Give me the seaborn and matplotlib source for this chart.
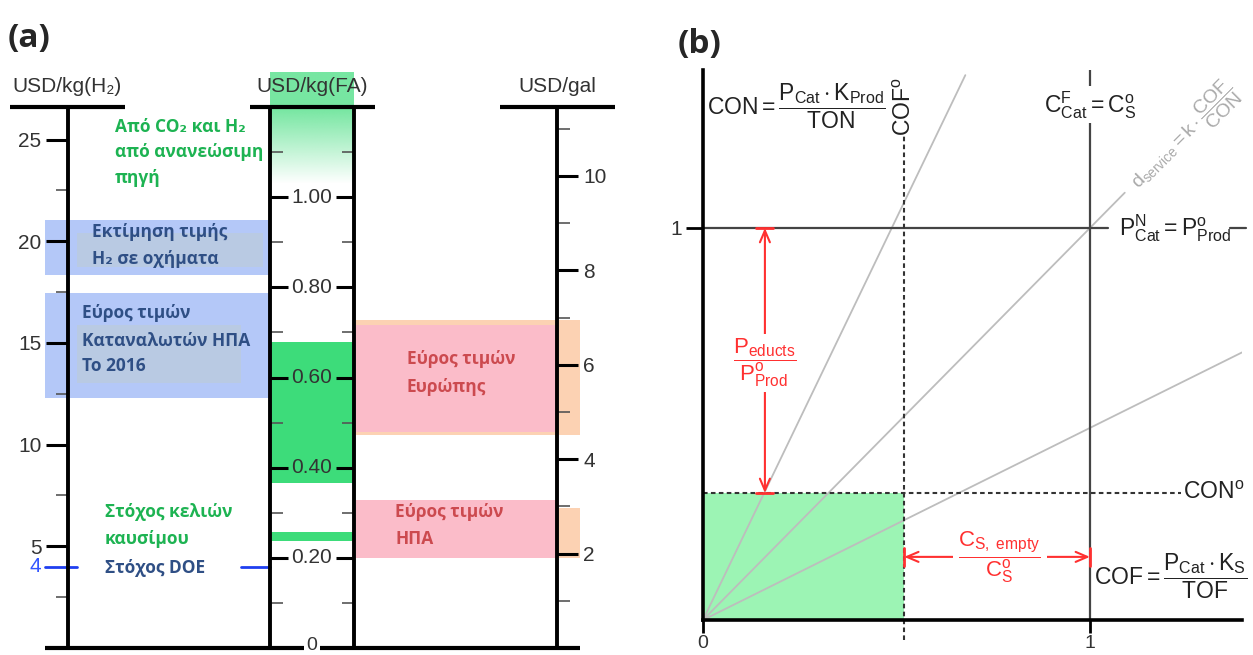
import numpy as np
import pandas as pd
import seaborn as sns
import matplotlib
matplotlib.use("Agg")
import matplotlib.pyplot as plt

sns.set_theme(style="white")
plt.rcParams["font.family"] = ["Liberation Sans", "DejaVu Sans"]
plt.rcParams["mathtext.fontset"] = "custom"
plt.rcParams["mathtext.rm"] = "Liberation Sans"
plt.rcParams["mathtext.it"] = "Liberation Sans:italic"
plt.rcParams["mathtext.bf"] = "Liberation Sans:bold"

# ---------------- panel (a) data ----------------
h2_top, fa_top, gal_top = 26.6, 1.20, 11.46
h2_major = [5, 10, 15, 20, 25]
h2_minor = [2.5, 7.5, 12.5, 17.5, 22.5]
fa_major = [0.20, 0.40, 0.60, 0.80, 1.00]
fa_minor = [0.1, 0.3, 0.5, 0.7, 0.9, 1.1]
gal_major = [2, 4, 6, 8, 10]
gal_minor = [1, 3, 5, 7, 9, 11]
doe_target = 4

h2_bands = [(18.36, 21.06), (12.30, 17.47)]
h2_text_boxes = [(18.75, 20.42), (13.04, 15.90)]
fa_bands = [(0.366, 0.678), (0.237, 0.257)]
fa_renewable = (1.03, 1.277)
gal_orange = [(4.51, 6.95), (1.91, 2.97)]
gal_pink = [(4.58, 6.84), (1.91, 3.14)]

green_lines = ["Από CO₂ και H₂", "από ανανεώσιμη", "πηγή"]
blue1_lines = ["Εκτίμηση τιμής", "H₂ σε οχήματα"]
blue2_lines = ["Εύρος τιμών", "Καταναλωτών ΗΠΑ", "Το 2016"]
fuel_lines = ["Στόχος κελιών", "καυσίμου"]
doe_label = "Στόχος DOE"
eu_lines = ["Εύρος τιμών", "Ευρώπης"]
us_lines = ["Εύρος τιμών", "ΗΠΑ"]

# ---------------- panel (b) data ----------------
cof0 = 0.52
con0 = 0.324
ray_slopes = [2.05, 1.0, 0.49]
ray_ends = [0.678, 1.09, 1.393]
educt_x = 0.16
educt_label_y = 0.656
empty_y = 0.161
empty_label_x = 0.767

W, H = 1253, 655
fig = plt.figure(figsize=(W / 100, H / 100), dpi=100)


def fx(px):
    return px / W


def fy(py):
    return 1 - py / H


def box(l, t, r, b):
    return [fx(l), fy(b), fx(r) - fx(l), fy(t) - fy(b)]


greek = ["Open Sans", "DejaVu Sans"]
c_green_txt = "#1db352"
c_blue_txt = "#2f4f85"
c_red_txt = "#cc4a4f"
tick_fs = 15


def strip(ax):
    ax.set_facecolor("none")
    for s in ax.spines.values():
        s.set_visible(False)
    ax.set_xticks([])


# left axis USD/kg(H2): line at 68 px, axes spans to the FA column
ax_h2 = fig.add_axes(box(68, 107, 270, 648))
strip(ax_h2)
ax_h2.set_xlim(0, 1)
ax_h2.set_ylim(0, h2_top)
ax_h2.spines["left"].set_visible(True)
ax_h2.spines["left"].set_linewidth(2.8)
ax_h2.spines["left"].set_color("black")
ax_h2.set_yticks(h2_major)
ax_h2.set_yticks(h2_minor, minor=True)
ax_h2.tick_params(axis="y", which="major", left=True, length=16, width=2.2,
                  color="black", labelsize=tick_fs, labelcolor="#333333", pad=3)
ax_h2.tick_params(axis="y", which="minor", left=True, length=9, width=1.2, color="#555555")

for (lo, hi) in h2_bands:
    ax_h2.axhspan(lo, hi, xmin=-0.114, xmax=1.0, color="#b4c8f8", lw=0, clip_on=False, zorder=0)
for (lo, hi), xr in zip(h2_text_boxes, [0.965, 0.857]):
    ax_h2.axhspan(lo, hi, xmin=0.045, xmax=xr, color="#b9cae3", lw=0, zorder=0.5)

ax_h2.plot([-0.114, 0.045], [doe_target, doe_target], color="#1f3ff0", lw=2, clip_on=False)
ax_h2.plot([0.856, 1.0], [doe_target, doe_target], color="#1f3ff0", lw=2, clip_on=False)
ax_h2.text(-0.135, doe_target, str(doe_target), color="#3355ff", fontsize=tick_fs,
           ha="right", va="center", transform=ax_h2.get_yaxis_transform())

# middle axis USD/kg(FA)
ax_fa = fig.add_axes(box(270, 107, 354, 648))
strip(ax_fa)
ax_fa.set_xlim(0, 1)
grad = np.zeros((200, 1, 4))
grad[:, 0, :3] = matplotlib.colors.to_rgb("#3ddc7a")
t = np.linspace(0, 1, 200)
grad[:, 0, 3] = np.clip(t * 1.5, 0, 1) * 0.7
im = ax_fa.imshow(grad, origin="lower", aspect="auto",
                  extent=[0, 1, fa_renewable[0], fa_renewable[1]], zorder=0)
im.set_clip_on(False)
for (lo, hi) in fa_bands:
    ax_fa.axhspan(lo, hi, color="#3ddc7a", lw=0, zorder=0)
ax_fa.set_xlim(0, 1)
ax_fa.set_ylim(0, fa_top)
for side in ["left", "right"]:
    ax_fa.spines[side].set_visible(True)
    ax_fa.spines[side].set_linewidth(2.8)
    ax_fa.spines[side].set_color("black")
ax_fa.set_yticks(fa_major)
ax_fa.set_yticks(fa_minor, minor=True)
ax_fa.tick_params(axis="y", which="major", left=True, right=True, direction="in",
                  length=13, width=2.2, color="black", labelleft=False)
ax_fa.tick_params(axis="y", which="minor", left=True, right=True, direction="in",
                  length=9, width=1.2, color="#555555")
for v in fa_major:
    ax_fa.text(0.5, v, f"{v:.2f}", fontsize=tick_fs, color="#333333", ha="center", va="center",
               transform=ax_fa.get_yaxis_transform())

# right axis USD/gal
ax_gal = fig.add_axes(box(354, 107, 557, 648))
strip(ax_gal)
ax_gal.set_xlim(0, 1)
ax_gal.set_ylim(0, gal_top)
for (lo, hi) in gal_orange:
    ax_gal.axhspan(lo, hi, xmin=0.008, xmax=1.113, color="#fcd2b3", lw=0, clip_on=False, zorder=0)
for (lo, hi) in gal_pink:
    ax_gal.axhspan(lo, hi, xmin=0.008, xmax=1.0, color="#fbbcc9", lw=0, zorder=0.5)
ax_gal.spines["right"].set_visible(True)
ax_gal.spines["right"].set_linewidth(2.8)
ax_gal.spines["right"].set_color("black")
ax_gal.yaxis.tick_right()
ax_gal.set_yticks(gal_major)
ax_gal.set_yticks(gal_minor, minor=True)
ax_gal.tick_params(axis="y", which="major", right=True, left=False, length=15, width=2.2,
                   color="black", labelsize=tick_fs, labelcolor="#333333", pad=4)
ax_gal.tick_params(axis="y", which="minor", right=True, left=False, length=9, width=1.2,
                   color="#555555")

# header bars, baseline and titles
for ax, (l, r) in [(ax_h2, (10, 125)), (ax_fa, (250, 375)), (ax_gal, (500, 615))]:
    x0, x1 = ax.get_position().x0 * W, ax.get_position().x1 * W
    ax.plot([(l - x0) / (x1 - x0), (r - x0) / (x1 - x0)], [1, 1], color="black", lw=3,
            transform=ax.transAxes, clip_on=False, solid_capstyle="butt")
ax_h2.plot([-0.114, (580 - 68) / 202], [0, 0], color="black", lw=3,
           transform=ax_h2.transAxes, clip_on=False, solid_capstyle="butt")
ax_fa.text(0.5, 0.004, "0", fontsize=14, color="#333333", ha="center", va="center",
           transform=ax_fa.transAxes, bbox=dict(fc="white", ec="none", pad=1.5), zorder=5)

for cx, s in [(67, "USD/kg(H₂)"), (312, "USD/kg(FA)"), (557, "USD/gal")]:
    fig.text(fx(cx), fy(86), s, fontsize=15, color="#333333", ha="center", va="center")

fig.text(fx(8), fy(38), "(a)", fontsize=24, fontweight="bold", family=greek,
         ha="left", va="center")


def gtext(px, pys, lines, color):
    for py, s in zip(pys, lines):
        fig.text(fx(px), fy(py), s, color=color, fontsize=12.5, fontweight="bold",
                 family=greek, ha="left", va="center")


gtext(115, [127, 152, 178], green_lines, c_green_txt)
gtext(92, [232, 259], blue1_lines, c_blue_txt)
gtext(82, [313, 341, 366], blue2_lines, c_blue_txt)
gtext(105, [512, 539], fuel_lines, c_green_txt)
gtext(105, [568], [doe_label], c_blue_txt)
gtext(407, [359, 387], eu_lines, c_red_txt)
gtext(395, [512, 539], us_lines, c_red_txt)

# ---------------- panel (b) ----------------
ax_b = fig.add_axes(box(703, 70, 1242, 620))
ax_b.set_facecolor("none")
ax_b.set_xlim(0, 1.393)
ax_b.set_ylim(0, 1.403)
for s in ["top", "right"]:
    ax_b.spines[s].set_visible(False)
for s in ["left", "bottom"]:
    ax_b.spines[s].set_linewidth(2.6)
    ax_b.spines[s].set_color("black")

ax_b.fill_between([0, cof0], 0, con0, color="#9cf4b4", lw=0, zorder=0)

rays = pd.DataFrame({
    "ray": np.repeat(np.arange(len(ray_slopes)), 2),
    "x": np.ravel([[0, e] for e in ray_ends]),
    "y": np.ravel([[0, s * e] for s, e in zip(ray_slopes, ray_ends)]),
})
sns.lineplot(data=rays, x="x", y="y", units="ray", estimator=None, color="#bdbdbd",
             lw=1.3, ax=ax_b, zorder=1)
ax_b.set_xlabel("")
ax_b.set_ylabel("")

dark = "#444444"
ax_b.plot([0, 1.047], [1, 1], color=dark, lw=1.6)
ax_b.plot([1.362, 1.403], [1, 1], color=dark, lw=1.6, clip_on=False)
ax_b.plot([1, 1], [0, 1.403], color=dark, lw=1.6)
dash = (0, (2.2, 1.6))
ax_b.plot([cof0, cof0], [-0.05, 1.235], color="#333333", lw=1.5, ls=dash, clip_on=False)
ax_b.plot([0, 1.235], [con0, con0], color="#333333", lw=1.5, ls=dash)

ax_b.set_xticks([0, 1])
ax_b.set_xticklabels(["0", "1"])
ax_b.set_yticks([1])
ax_b.set_yticklabels(["1"])
ax_b.tick_params(axis="x", bottom=True, length=9.5, width=2, color="black",
                 labelsize=14, labelcolor="#333333", pad=1.5)
ax_b.tick_params(axis="y", left=True, length=12, width=2, color="black",
                 labelsize=tick_fs, labelcolor="#333333", pad=3)

red = "#ff3030"
arrow = dict(arrowstyle="<->,head_length=0.7,head_width=0.3", color=red, lw=1.5,
             shrinkA=0, shrinkB=0)
ax_b.annotate("", xy=(educt_x, 1), xytext=(educt_x, con0), arrowprops=arrow)
ax_b.annotate("", xy=(cof0, empty_y), xytext=(1, empty_y), arrowprops=arrow)
for yy in [1, con0]:
    ax_b.plot([educt_x - 0.022, educt_x + 0.022], [yy, yy], color=red, lw=2)
for xx in [cof0, 1]:
    ax_b.plot([xx, xx], [empty_y - 0.022, empty_y + 0.022], color=red, lw=2)

wb = dict(fc="white", ec="none", pad=2)
ax_b.text(educt_x, educt_label_y, r"$\dfrac{\mathrm{P_{educts}}}{\mathrm{P^{o}_{Prod}}}$",
          color=red, fontsize=16, ha="center", va="center", bbox=wb, zorder=4)
ax_b.text(empty_label_x, empty_y, r"$\dfrac{\mathrm{C_{S,\ empty}}}{\mathrm{C^{o}_{S}}}$",
          color=red, fontsize=16, ha="center", va="center", bbox=dict(fc="white", ec="none", pad=4),
          zorder=4)

fs = 16.5
ax_b.text(0.01, 1.309, r"$\mathrm{CON} = \dfrac{\mathrm{P_{Cat}\cdot K_{Prod}}}{\mathrm{TON}}$",
          fontsize=fs, color="#222222", ha="left", va="center")
ax_b.text(cof0, 1.31, r"$\mathrm{COF^{o}}$", fontsize=fs, color="#222222", rotation=90,
          ha="center", va="center")
ax_b.text(1, 1.314, r"$\mathrm{C^{F}_{Cat} = C^{o}_{S}}$", fontsize=fs, color="#222222",
          ha="center", va="center", bbox=dict(fc="white", ec="none", pad=2), zorder=4)
ax_b.text(1.075, 1, r"$\mathrm{P^{N}_{Cat} = P^{o}_{Prod}}$", fontsize=fs, color="#222222",
          ha="left", va="center", clip_on=False)
ax_b.text(1.24, con0, r"$\mathrm{CON^{o}}$", fontsize=fs, color="#222222",
          ha="left", va="center", clip_on=False)
ax_b.text(1.01, 0.11, r"$\mathrm{COF} = \dfrac{\mathrm{P_{Cat}\cdot K_{S}}}{\mathrm{TOF}}$",
          fontsize=fs, color="#222222", ha="left", va="center", clip_on=False)
ax_b.text(1.245, 1.232, r"$\mathrm{d_{service} = k\cdot \dfrac{COF}{CON}}$", fontsize=14,
          color="#aaaaaa", rotation=45, rotation_mode="anchor", ha="center", va="center",
          clip_on=False)

fig.text(fx(678), fy(45), "(b)", fontsize=24, fontweight="bold", family=greek,
         ha="left", va="center")

fig.savefig("out.png", dpi=100)
